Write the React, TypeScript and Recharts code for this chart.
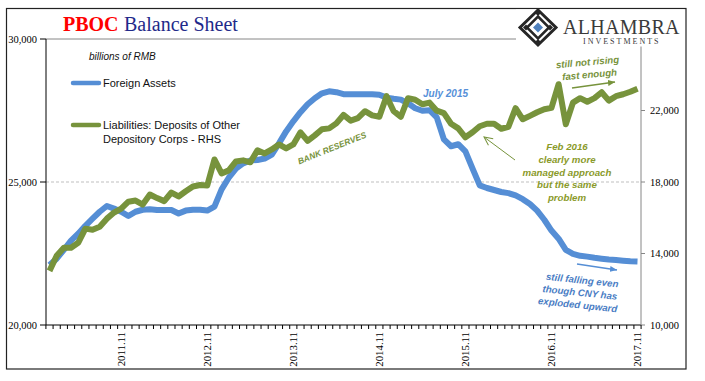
import React from 'react';
import { LineChart, Line, XAxis, YAxis, ReferenceLine, Legend } from 'recharts';

const months: string[] = [
  '2011.01','2011.02','2011.03','2011.04','2011.05','2011.06','2011.07','2011.08','2011.09','2011.10','2011.11','2011.12',
  '2012.01','2012.02','2012.03','2012.04','2012.05','2012.06','2012.07','2012.08','2012.09','2012.10','2012.11','2012.12',
  '2013.01','2013.02','2013.03','2013.04','2013.05','2013.06','2013.07','2013.08','2013.09','2013.10','2013.11','2013.12',
  '2014.01','2014.02','2014.03','2014.04','2014.05','2014.06','2014.07','2014.08','2014.09','2014.10','2014.11','2014.12',
  '2015.01','2015.02','2015.03','2015.04','2015.05','2015.06','2015.07','2015.08','2015.09','2015.10','2015.11','2015.12',
  '2016.01','2016.02','2016.03','2016.04','2016.05','2016.06','2016.07','2016.08','2016.09','2016.10','2016.11','2016.12',
  '2017.01','2017.02','2017.03','2017.04','2017.05','2017.06','2017.07','2017.08','2017.09','2017.10','2017.11',
];

// Foreign Assets (billions of RMB, left axis)
const foreignAssets: number[] = [
  22100, 22320, 22630, 22950, 23190, 23470, 23720, 23960, 24160, 24070, 23960, 23810,
  23960, 24030, 24050, 24020, 24020, 24020, 23900, 24000, 24030, 24030, 24000, 24140,
  24740, 25150, 25470, 25650, 25750, 25770, 25820, 25960, 26350, 26770, 27120, 27440,
  27720, 27930, 28100, 28170, 28140, 28070, 28070, 28070, 28070, 28070, 28050, 27950,
  27910, 27880, 27750, 27580, 27490, 27510, 27260, 26490, 26250, 26320, 26070, 25470,
  24880, 24790, 24720, 24650, 24610, 24530, 24400, 24230, 24000, 23680, 23300, 23020,
  22630, 22490, 22420, 22390, 22350, 22320, 22290, 22270, 22250, 22230, 22220,
];

// Liabilities: Deposits of Other Depository Corps (right axis)
const deposits: number[] = [
  13030, 13870, 14320, 14320, 14600, 15390, 15330, 15500, 15950, 16290, 16510, 16900,
  16960, 16740, 17300, 17100, 16930, 17410, 17190, 17480, 17750, 17830, 17800, 19260,
  18480, 18650, 19150, 19210, 19100, 19770, 19600, 19820, 20100, 19880, 20100, 20780,
  20300, 20610, 20950, 21000, 21280, 21750, 21430, 21570, 21960, 21730, 21650, 22800,
  21960, 21650, 22690, 22600, 22350, 22440, 21990, 21850, 21260, 21000, 20500, 20780,
  21120, 21260, 21260, 20980, 21090, 22130, 21510, 21700, 21900, 22070, 22150, 23470,
  21230, 22440, 22690, 22490, 22690, 23020, 22550, 22800, 22910, 23050, 23220,
];

const tickLabels: string[] = ['2011.11', '2012.11', '2013.11', '2014.11', '2015.11', '2016.11', '2017.11'];
const leftTicks: number[] = [20000, 25000, 30000];
const rightTicks: number[] = [10000, 14000, 18000, 22000];
const seriesNames: string[] = ['Foreign Assets', 'Liabilities: Deposits of Other Depository Corps - RHS'];

const data = months.map((m, i) => ({ month: m, fa: foreignAssets[i], dep: deposits[i] }));

const SERIF = '"Liberation Serif", "Times New Roman", serif';
const SANS = '"Liberation Sans", Arial, sans-serif';
const BLUE = '#558ED5';
const GREEN = '#77933C';
const HALF_BAND = 3.585;

const XTick = (props: any) => {
  const { x, y, payload, index } = props;
  const show = tickLabels.includes(payload.value);
  return (
    <g>
      <line x1={x - HALF_BAND} x2={x - HALF_BAND} y1={y} y2={y + 4} stroke="#000" strokeWidth={1} />
      {index === months.length - 1 && (
        <line x1={x + HALF_BAND} x2={x + HALF_BAND} y1={y} y2={y + 4} stroke="#000" strokeWidth={1} />
      )}
      {show && (
        <text
          x={x}
          y={y + 7}
          transform={`rotate(-90, ${x}, ${y + 7})`}
          textAnchor="end"
          dy="0.35em"
          fontFamily={SERIF}
          fontSize={10.8}
          fill="#000"
        >
          {payload.value}
        </text>
      )}
    </g>
  );
};

const LegendBox = () => (
  <svg width={220} height={80} style={{ overflow: 'visible' }}>
    <line x1={7} x2={33} y1={13} y2={13} stroke={BLUE} strokeWidth={4.5} strokeLinecap="round" />
    <text x={37} y={13} dy="0.35em" fontFamily={SANS} fontSize={11} fill="#111">{seriesNames[0]}</text>
    <line x1={7} x2={33} y1={55} y2={55} stroke={GREEN} strokeWidth={4.5} strokeLinecap="round" />
    <text x={37} y={55} dy="0.35em" fontFamily={SANS} fontSize={11} fill="#111">Liabilities: Deposits of Other</text>
    <text x={37} y={69} dy="0.35em" fontFamily={SANS} fontSize={11} fill="#111">Depository Corps - RHS</text>
  </svg>
);

const fmt = (v: number) => v.toLocaleString('en-US');

const ANN = { fontFamily: SANS, fontWeight: 'bold' as const, fontStyle: 'italic' as const };

export default function App() {
  return (
    <div style={{ position: 'absolute', left: 0, top: 0, width: 705, height: 381, background: '#fff' }}>
      <LineChart width={705} height={381} data={data} margin={{ top: 39, right: 0, bottom: 0, left: 0 }}>
        <XAxis
          dataKey="month"
          interval={0}
          height={56}
          padding={{ left: 3.5, right: 3.5 }}
          axisLine={{ stroke: '#000', strokeWidth: 1 }}
          tickLine={false}
          tickSize={0}
          tickMargin={0}
          tick={<XTick />}
        />
        <YAxis
          yAxisId="left"
          orientation="left"
          width={46}
          domain={[20000, 30000]}
          ticks={leftTicks}
          interval={0}
          tickFormatter={fmt}
          axisLine={{ stroke: '#000', strokeWidth: 1 }}
          tickLine={{ stroke: '#000' }}
          tickSize={6}
          tickMargin={3}
          tick={{ fill: '#000', fontSize: 10.5, fontFamily: SERIF }}
        />
        <YAxis
          yAxisId="right"
          orientation="right"
          width={64}
          domain={[10000, 26000]}
          ticks={rightTicks}
          interval={0}
          tickFormatter={fmt}
          axisLine={{ stroke: '#868686', strokeWidth: 1 }}
          tickLine={{ stroke: '#868686' }}
          tickSize={4}
          tickMargin={5}
          tick={{ fill: '#000', fontSize: 10.5, fontFamily: SERIF, textAnchor: 'start' }}
        />
        <ReferenceLine yAxisId="left" y={25000} stroke="#BFBFBF" strokeDasharray="3 2" strokeWidth={1} />
        <ReferenceLine yAxisId="left" y={30000} stroke="#868686" strokeWidth={1} />
        <Legend
          layout="vertical"
          align="center"
          verticalAlign="middle"
          content={() => <LegendBox />}
          wrapperStyle={{ position: 'absolute', left: 66, top: 70, width: 220, height: 80 }}
        />
        <Line
          yAxisId="left"
          name={seriesNames[0]}
          dataKey="fa"
          stroke={BLUE}
          strokeWidth={6}
          dot={false}
          activeDot={false}
          strokeLinejoin="round"
          isAnimationActive={false}
        />
        <Line
          yAxisId="right"
          name={seriesNames[1]}
          dataKey="dep"
          stroke={GREEN}
          strokeWidth={6}
          dot={false}
          activeDot={false}
          strokeLinejoin="round"
          isAnimationActive={false}
        />
      </LineChart>
      <svg
        width={705}
        height={381}
        style={{ position: 'absolute', left: 0, top: 0, pointerEvents: 'none' }}
      >
        <defs>
          <marker id="ahG" markerWidth="8" markerHeight="8" refX="7" refY="4" orient="auto" markerUnits="userSpaceOnUse">
            <path d="M0,1 L7,4 L0,7 Z" fill={GREEN} />
          </marker>
          <marker id="ahB" markerWidth="8" markerHeight="8" refX="7" refY="4" orient="auto" markerUnits="userSpaceOnUse">
            <path d="M0,1 L7,4 L0,7 Z" fill={BLUE} />
          </marker>
          <marker id="ahO" markerWidth="11" markerHeight="11" refX="9.5" refY="5" orient="auto" markerUnits="userSpaceOnUse">
            <path d="M1,1 L9.5,5 L1,9" fill="none" stroke={GREEN} strokeWidth={1} />
          </marker>
        </defs>
        {/* outer border */}
        <rect x={6.5} y={8.5} width={679.5} height={360.5} fill="none" stroke="#222" strokeWidth={1.2} />

        {/* title */}
        <text x={63} y={31} fontFamily={SERIF} fontSize={20} fontWeight="bold" fill="#FF0000">PBOC</text>
        <text x={124} y={31} fontFamily={SERIF} fontSize={20} fill="#1F2A8A">Balance Sheet</text>
        <text x={89} y={60} fontFamily={SANS} fontSize={10} fontStyle="italic" fill="#111">billions of RMB</text>

        {/* logo */}
        <rect x={516} y={9.5} width={168} height={37} fill="#fff" />
        <g>
          <polygon points="538,10 556,27.5 538,45 520,27.5" fill="none" stroke="#262626" strokeWidth={3} />
          <polygon points="538,16.5 549,27.5 538,38.5 527,27.5" fill="none" stroke="#262626" strokeWidth={2.5} />
          <polygon points="538,10 541,13 538,16 535,13" fill="#262626" />
          <polygon points="538,39 541,42 538,45 535,42" fill="#262626" />
          <polygon points="523,27.5 526,24.5 529,27.5 526,30.5" fill="#262626" />
          <polygon points="547,27.5 550,24.5 553,27.5 550,30.5" fill="#262626" />
          <polygon points="538,22.5 543,27.5 538,32.5 533,27.5" fill="#4F81BD" />
        </g>
        <text x={563} y={34} fontFamily={SERIF} fontSize={20} letterSpacing={0.3} fill="#3A3A3A">ALHAMBRA</text>
        <text x={583} y={44} fontFamily={SERIF} fontSize={8} letterSpacing={2} fill="#3A3A3A">INVESTMENTS</text>

        {/* annotations */}
        <text x={332} y={148} dy="0.35em" textAnchor="middle" transform="rotate(-22, 332, 148)" {...ANN} fontSize={8.5} fill={GREEN}>BANK RESERVES</text>
        <text x={445.5} y={93} dy="0.35em" textAnchor="middle" {...ANN} fontSize={10} fill="#5690D8">July 2015</text>

        <g transform="rotate(-5, 588, 68)">
          <text x={588} y={62} dy="0.35em" textAnchor="middle" {...ANN} fontSize={9.7} fill={GREEN}>still not rising</text>
          <text x={589} y={74.5} dy="0.35em" textAnchor="middle" {...ANN} fontSize={9.7} fill={GREEN}>fast enough</text>
        </g>
        <line x1={572} y1={88} x2={615} y2={82} stroke={GREEN} strokeWidth={1.5} markerEnd="url(#ahG)" />

        <g>
          <text x={567} y={147} dy="0.35em" textAnchor="middle" {...ANN} fontSize={9.7} fill="#8A9A2A">Feb 2016</text>
          <text x={567} y={160} dy="0.35em" textAnchor="middle" {...ANN} fontSize={9.7} fill="#8A9A2A">clearly more</text>
          <text x={567} y={172.5} dy="0.35em" textAnchor="middle" {...ANN} fontSize={9.7} fill="#8A9A2A">managed approach</text>
          <text x={567} y={185} dy="0.35em" textAnchor="middle" {...ANN} fontSize={9.7} fill="#8A9A2A">but the same</text>
          <text x={567} y={198} dy="0.35em" textAnchor="middle" {...ANN} fontSize={9.7} fill="#8A9A2A">problem</text>
        </g>
        <line x1={515} y1={160} x2={484} y2={137} stroke={GREEN} strokeWidth={1} markerEnd="url(#ahO)" />

        <line x1={577} y1={264} x2={617} y2={270} stroke={BLUE} strokeWidth={1.5} markerEnd="url(#ahB)" />
        <g transform="rotate(6, 580, 292)">
          <text x={581} y={280} dy="0.35em" textAnchor="middle" {...ANN} fontSize={9.7} fill="#4A7DC4">still falling even</text>
          <text x={580} y={292.5} dy="0.35em" textAnchor="middle" {...ANN} fontSize={9.7} fill="#4A7DC4">though CNY has</text>
          <text x={579} y={305} dy="0.35em" textAnchor="middle" {...ANN} fontSize={9.7} fill="#4A7DC4">exploded upward</text>
        </g>
      </svg>
    </div>
  );
}
